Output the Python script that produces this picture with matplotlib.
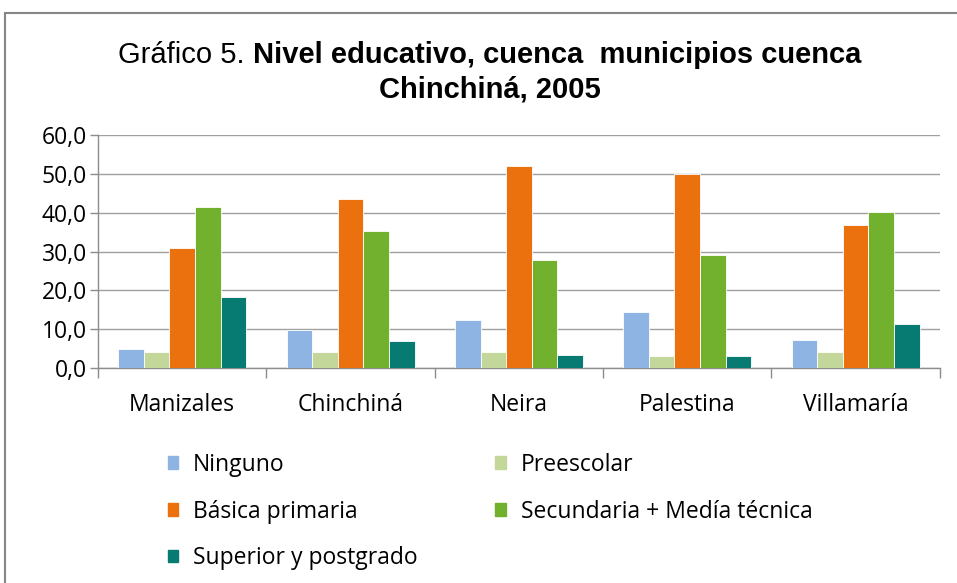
import matplotlib.pyplot as plt
import matplotlib.patches as mpatches
import numpy as np

# data
municipios = ['Manizales', 'Chinchiná', 'Neira', 'Palestina', 'Villamaría']
ninguno = [5.0, 9.8, 12.3, 14.3, 7.3]
preescolar = [4.0, 4.0, 4.0, 3.0, 4.0]
basica = [30.9, 43.4, 52.1, 50.0, 36.8]
secundaria = [41.5, 35.2, 27.9, 29.2, 40.1]
superior = [18.3, 7.0, 3.4, 3.0, 11.4]

series = ['Ninguno', 'Preescolar', 'Básica primaria', 'Secundaria + Medía técnica', 'Superior y postgrado']
colors = ['#8DB4E2', '#C4D79B', '#EB700E', '#72B12E', '#077A72']
yticks = [0, 10, 20, 30, 40, 50, 60]

font = 'Open Sans'
tfont = 'Liberation Sans'

fig = plt.figure(figsize=(9.57, 5.83), dpi=100)
ax = fig.add_axes([0.1024, 0.3688, 0.8796, 0.3996])

x = np.arange(len(municipios))
w = 0.152
values = [ninguno, preescolar, basica, secundaria, superior]
for i, (vals, c) in enumerate(zip(values, colors)):
    ax.bar(x + (i - 2) * w, vals, width=w, color=c, edgecolor='white', linewidth=0.6, zorder=3)

ax.set_xlim(-0.5, len(municipios) - 0.5)
ax.set_ylim(0, 60)
ax.set_yticks(yticks)
ax.set_yticklabels([f"{v:.1f}".replace('.', ',') for v in yticks], fontsize=16.5, family=font)

# category boundaries as major ticks, names as minor ticks
ax.set_xticks(np.arange(-0.5, len(municipios), 1.0))
ax.set_xticklabels([])
ax.set_xticks(x, minor=True)
ax.set_xticklabels(municipios, minor=True, fontsize=16.5, family=font)
ax.tick_params(axis='x', which='major', length=7, color='#8C8C8C', width=1)
ax.tick_params(axis='x', which='minor', length=0, pad=18)
ax.tick_params(axis='y', length=6, color='#8C8C8C', width=1, pad=2)

ax.yaxis.grid(True, color='#A0A0A0', linewidth=1, zorder=0)
ax.set_axisbelow(True)
for s in ['top', 'right']:
    ax.spines[s].set_visible(False)
for s in ['left', 'bottom']:
    ax.spines[s].set_color('#8C8C8C')
    ax.spines[s].set_linewidth(1)

# title, mixed weight on the first line
xc = 490 / 957
y1 = 1 - 55 / 583
t_norm = fig.text(0, y1, 'Gráfico 5. ', ha='left', va='center', fontsize=21, family=tfont)
t_bold = fig.text(0, y1, 'Nivel educativo, cuenca  municipios cuenca', ha='left', va='center',
                  fontsize=21, fontweight='bold', family=tfont)
fig.canvas.draw()
r = fig.canvas.get_renderer()
wn = t_norm.get_window_extent(r).width / fig.bbox.width
wb = t_bold.get_window_extent(r).width / fig.bbox.width
x0 = xc - (wn + wb) / 2
t_norm.set_x(x0)
t_bold.set_x(x0 + wn)
fig.text(xc, 1 - 89 / 583, 'Chinchiná, 2005', ha='center', va='center', fontsize=21, fontweight='bold',
         family=tfont)

# legend in row order
handles = [mpatches.Patch(color=c, label=s) for s, c in zip(series, colors)]
order = [0, 2, 4, 1, 3]
leg = fig.legend([handles[i] for i in order], [series[i] for i in order], ncol=2,
                 loc='upper left', bbox_to_anchor=(0.1536, 0.259), frameon=False,
                 prop={'family': font, 'size': 16.5}, handlelength=0.45, handleheight=0.45,
                 handletextpad=0.65, labelspacing=1.0, columnspacing=3.4)

# outer frame
fig.patches.append(mpatches.Rectangle((5 / 957, -0.01), 1.0, 1 - 13 / 583 + 0.01, transform=fig.transFigure,
                                      fill=False, edgecolor='#868686', linewidth=1.5))

fig.savefig('out.png', dpi=100)
